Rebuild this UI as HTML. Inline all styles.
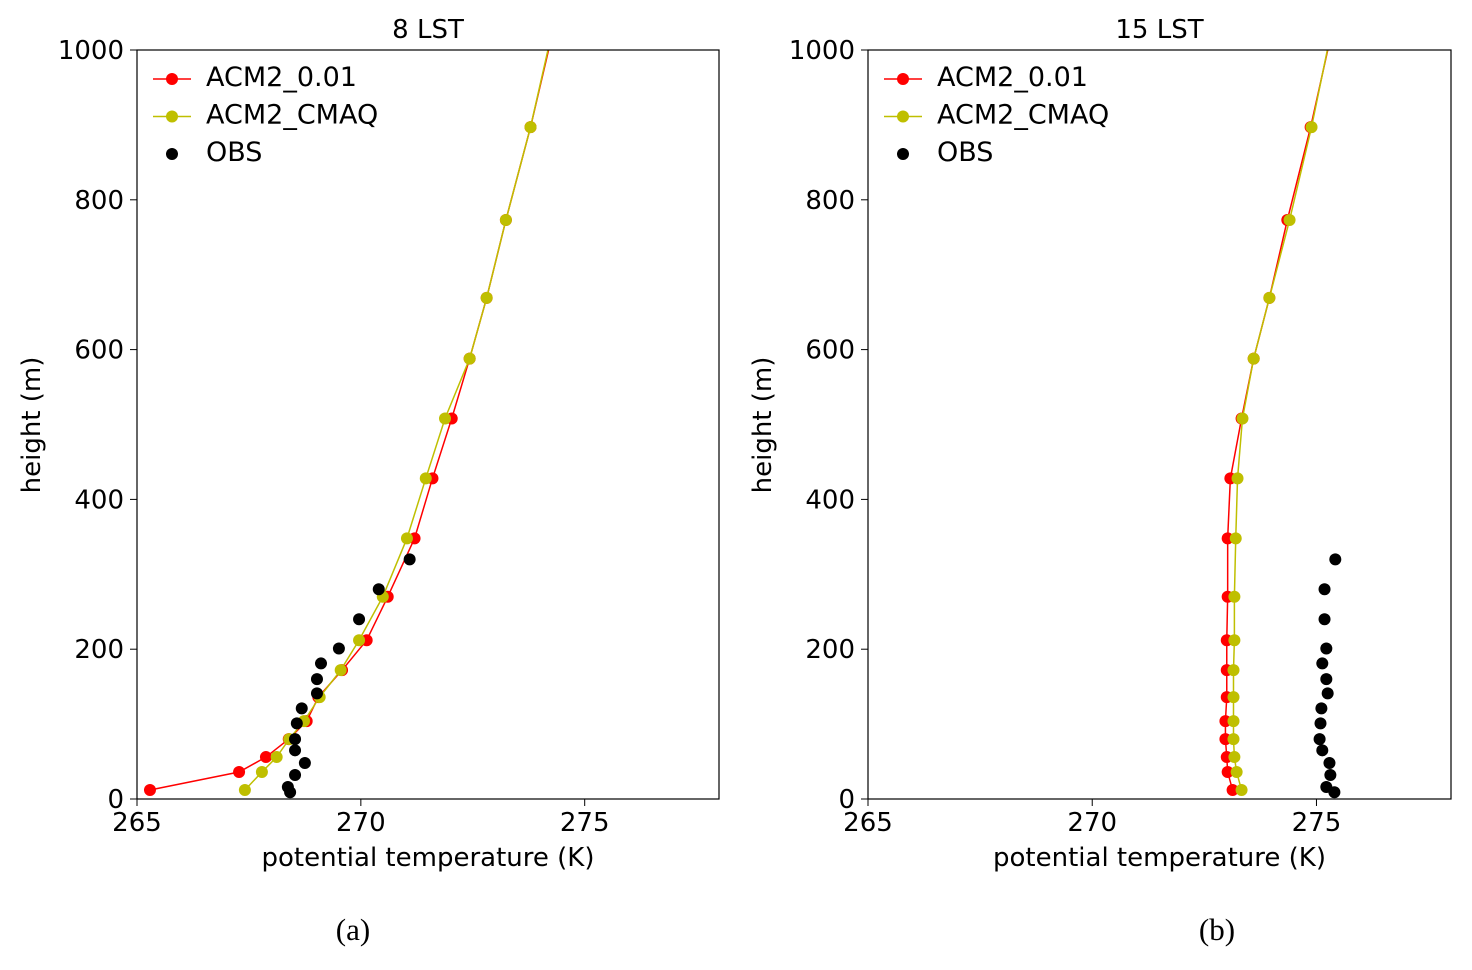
<!DOCTYPE html>
<html><head><meta charset="utf-8"><style>
body{margin:0;background:#fff}
svg text{font-family:"DejaVu Sans","Liberation Sans",sans-serif}
</style></head><body>
<svg id="c" width="1472" height="965" xmlns="http://www.w3.org/2000/svg"></svg>
<script>
const heights=[12,36,56,80,104,136,172,212,270,348,428,508,588,669,773,897,1040];
const redA=[265.29,267.28,267.88,268.39,268.79,269.05,269.58,270.13,270.6,271.2,271.6,272.03,272.43,272.81,273.24,273.79,274.35];
const yelA=[267.41,267.79,268.12,268.4,268.73,269.08,269.55,269.96,270.49,271.03,271.45,271.88,272.43,272.81,273.24,273.79,274.33];
const obsAT=[268.42,268.37,268.53,268.75,268.53,268.53,268.57,268.68,269.02,269.02,269.11,269.51,269.96,270.4,271.09];
const obsH=[9,16,32,48,65,80,101,121,141,160,181,201,240,280,320];
const redB=[273.13,273.02,273.0,272.97,272.97,273.0,273.0,273.0,273.02,273.02,273.08,273.33,273.6,273.95,274.35,274.87,275.4];
const yelB=[273.33,273.22,273.17,273.15,273.15,273.15,273.15,273.17,273.17,273.2,273.24,273.35,273.6,273.95,274.4,274.89,275.38];
const obsBT=[275.4,275.22,275.31,275.29,275.13,275.07,275.09,275.11,275.25,275.22,275.13,275.22,275.18,275.18,275.42];
const xTicks=[265,270,275];
const yTicks=[0,200,400,600,800,1000];
const NS="http://www.w3.org/2000/svg";
const svg=document.getElementById('c');
function mk(t,a,p){const e=document.createElementNS(NS,t);for(const k in a)e.setAttribute(k,a[k]);(p||svg).appendChild(e);return e;}
function panel(x0,x1,title,red,yel,obsT,id,lab,labX){
 const y0=799,y1=50;
 const sx=v=>x0+(v-265)/(278-265)*(x1-x0);
 const sy=v=>y0-(v/1000)*(y0-y1);
 const g=mk('g',{});
 
 
 const cid='clip'+id;
 const cp=mk('clipPath',{id:cid},g);mk('rect',{x:x0,y:y1,width:x1-x0,height:y0-y1},cp);
 const pg=mk('g',{'clip-path':'url(#'+cid+')'},g);
 [[red,'#ff0000','red-series'],[yel,'#bfbf00','yellow-series']].forEach(([arr,col,nm])=>{
  const pl=mk('polyline',{points:arr.map((v,i)=>sx(v)+','+sy(heights[i])).join(' '),fill:'none',stroke:col,'stroke-width':1.5},pg);
  
  
  arr.forEach((v,i)=>{const c=mk('circle',{cx:sx(v),cy:sy(heights[i]),r:6,fill:col},pg);
   
   });
 });
 obsT.forEach((v,i)=>{const c=mk('circle',{cx:sx(v),cy:sy(obsH[i]),r:6,fill:'#000'},pg);
  
  });
 mk('rect',{x:x0,y:y1,width:x1-x0,height:y0-y1,fill:'none',stroke:'#000','stroke-width':1.2},g);
 xTicks.forEach(t=>{mk('line',{x1:sx(t),x2:sx(t),y1:y0,y2:y0+7,stroke:'#000'},g);
  const tx=mk('text',{x:sx(t),y:y0+32,'font-size':26,'text-anchor':'middle'},g);tx.textContent=t;
  });
 yTicks.forEach(t=>{mk('line',{x1:x0-7,x2:x0,y1:sy(t),y2:sy(t),stroke:'#000'},g);
  const tx=mk('text',{x:x0-13,y:sy(t)+9,'font-size':26,'text-anchor':'end'},g);tx.textContent=t;
  });
 const cx=(x0+x1)/2;
 let t=mk('text',{x:cx,y:38,'font-size':26,'text-anchor':'middle'},g);t.textContent=title;
 
 t=mk('text',{x:cx,y:866,'font-size':26,'text-anchor':'middle'},g);t.textContent='potential temperature (K)';
 
 t=mk('text',{x:0,y:0,'font-size':26,'text-anchor':'middle',transform:'translate('+(x0-97)+',425) rotate(-90)'},g);t.textContent='height (m)';
 
 t=mk('text',{x:labX,y:940,'font-size':31,'text-anchor':'middle',style:'font-family:"Liberation Serif",serif'},g);t.textContent=lab;
 
 const leg=[['ACM2_0.01','#ff0000',true],['ACM2_CMAQ','#bfbf00',true],['OBS','#000',false]];
 leg.forEach((L,i)=>{const yy=79+i*37.5;
  if(L[2])mk('line',{x1:x0+16,x2:x0+54,y1:yy,y2:yy,stroke:L[1],'stroke-width':1.5},g);
  mk('circle',{cx:x0+35,cy:yy,r:6,fill:L[1]},g);
  const tt=mk('text',{x:x0+69,y:yy+7,'font-size':27},g);tt.textContent=L[0];
  });
}
panel(137,719,'8 LST',redA,yelA,obsAT,'panel-a','(a)',353);
panel(868,1451,'15 LST',redB,yelB,obsBT,'panel-b','(b)',1217);
</script>
</body></html>
